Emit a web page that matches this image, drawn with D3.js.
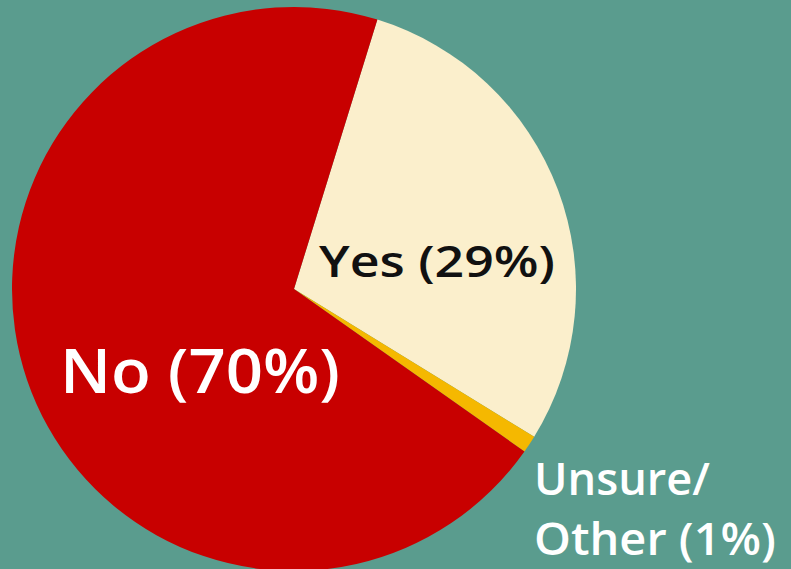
<!DOCTYPE html>
<html>
<head>
<meta charset="utf-8">
<script src="https://cdn.jsdelivr.net/npm/d3@7"></script>
<style>
  html, body { margin: 0; padding: 0; background: #5a9c8e; }
  svg { display: block; }
  text { font-family: 'Open Sans', sans-serif; font-weight: 600; }
</style>
</head>
<body>
<div id="chart"></div>
<script>
(() => {
  const WIDTH = 791
  const HEIGHT = 569

  // chart data, in the order the slices go round clockwise from the top
  const categories = ['Yes', 'Unsure/Other', 'No']
  const values = [29, 1, 70]
  const colors = ['#fbefcc', '#f5b800', '#c80000']

  const CENTER = { x: 294, y: 289 }
  const RADIUS = 282
  const START = 17.2 * Math.PI / 180

  const svg = d3.select('#chart')
    .append('svg')
    .attr('width', WIDTH)
    .attr('height', HEIGHT)

  svg.append('rect')
    .attr('width', WIDTH)
    .attr('height', HEIGHT)
    .attr('fill', '#5a9c8e')

  const pie = d3.pie()
    .sort(null)
    .value(d => d.value)
    .startAngle(START)
    .endAngle(START + 2 * Math.PI)

  const arc = d3.arc()
    .innerRadius(0)
    .outerRadius(RADIUS)

  const data = categories.map((c, i) => ({ name: c, value: values[i], color: colors[i] }))

  svg.append('g')
    .attr('transform', `translate(${CENTER.x}, ${CENTER.y})`)
    .selectAll('path')
    .data(pie(data))
    .join('path')
    .attr('d', arc)
    .attr('fill', d => d.data.color)

  // labels, each line placed where the picture has it
  const labels = [
    { lines: [`${categories[0]} (${values[0]}%)`], x: 319, y: [277], size: 44, len: [236], fill: '#111' },
    { lines: ['Unsure/', `Other (${values[1]}%)`], x: 534, y: [495, 555], size: 45, len: [176, 242], fill: '#fff' },
    { lines: [`${categories[2]} (${values[2]}%)`], x: 60, y: [393], size: 62, len: [280], fill: '#fff' }
  ]

  labels.forEach(l => {
    l.lines.forEach((t, i) => {
      svg.append('text')
        .attr('x', l.x)
        .attr('y', l.y[i])
        .attr('font-size', l.size)
        .attr('fill', l.fill)
        .attr('textLength', l.len[i])
        .attr('lengthAdjust', 'spacingAndGlyphs')
        .text(t)
    })
  })
})()
</script>
</body>
</html>
